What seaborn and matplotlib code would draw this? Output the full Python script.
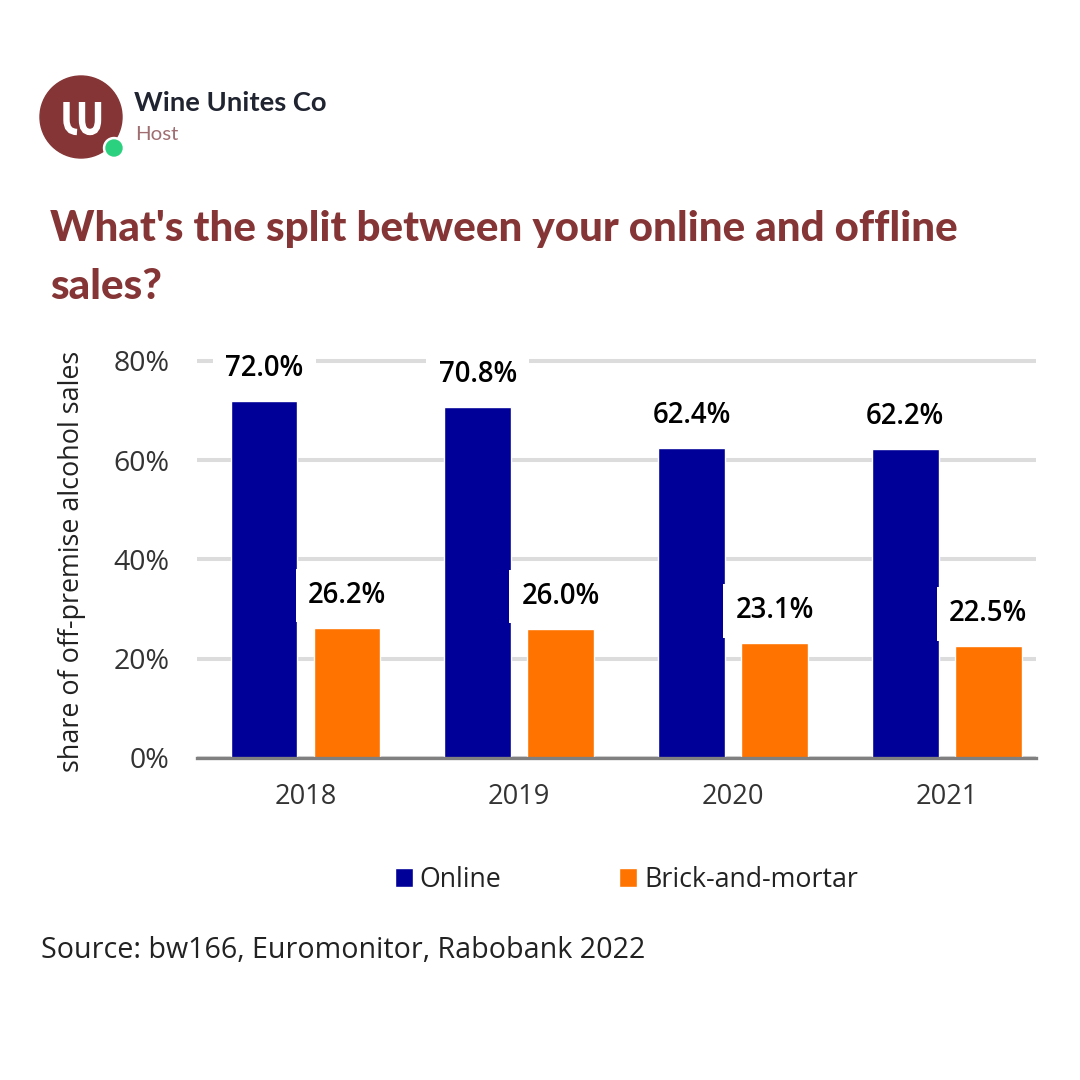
import pandas as pd
import seaborn as sns
import matplotlib.pyplot as plt
from matplotlib.patches import Circle, PathPatch
from matplotlib.path import Path

# values
years = ["2018", "2019", "2020", "2021"]
online = [72.0, 70.8, 62.4, 62.2]
brick_and_mortar = [26.2, 26.0, 23.1, 22.5]
y_ticks = [0, 20, 40, 60, 80]

BLUE = "#000099"
ORANGE = "#FF7300"
WINE = "#853535"
W = H = 1080


def fx(px):
    return px / W


def fy(py):
    return 1 - py / H


df = pd.DataFrame({
    "year": years * 2,
    "share": online + brick_and_mortar,
    "channel": ["Online"] * 4 + ["Brick-and-mortar"] * 4,
})

sns.set_theme(style="white")
plt.rcParams["font.family"] = ["Open Sans", "DejaVu Sans"]

fig = plt.figure(figsize=(10.8, 10.8), dpi=100, facecolor="white")

# Header drawn in pixel coordinates
bg = fig.add_axes([0, 0, 1, 1])
bg.set_xlim(0, W)
bg.set_ylim(H, 0)
bg.axis("off")
bg.add_patch(Circle((81, 117), 41, color=WINE))
# logo mark: an l with a curved tail running into a U
logo = Path(
    [(66.5, 102), (66.5, 120), (66.5, 132), (77, 132),
     (82, 102), (82, 120), (82, 132), (90, 132), (98, 132), (98, 120), (98, 102)],
    [Path.MOVETO, Path.LINETO, Path.CURVE3, Path.CURVE3,
     Path.MOVETO, Path.LINETO, Path.CURVE3, Path.CURVE3, Path.CURVE3, Path.CURVE3, Path.LINETO],
)
bg.add_patch(PathPatch(logo, facecolor="none", edgecolor="white", linewidth=4.6, capstyle="butt"))
bg.add_patch(Circle((114, 148), 10.5, color="white"))
bg.add_patch(Circle((114, 148), 8, color="#2BD17E"))
bg.text(134, 103, "Wine Unites Co", color="#1F2430", fontsize=19.7, fontweight="bold",
        family="Lato", va="center")
bg.text(135, 134, "Host", color="#A06E72", fontsize=14.7, family="Lato", va="center")
bg.text(50, 229, "What's the split between your online and offline", color=WINE,
        fontsize=30.3, fontweight="black", family="Lato", va="center")
bg.text(50, 287, "sales?", color=WINE, fontsize=30.3, fontweight="black", family="Lato",
        va="center")

# Chart
ax = fig.add_axes([fx(197), fy(758), fx(1036 - 197), (758 - 358) / H])
ax.patch.set_alpha(0)
sns.barplot(data=df, x="year", y="share", hue="channel", order=years,
            hue_order=["Online", "Brick-and-mortar"],
            palette=[BLUE, ORANGE], saturation=1, width=0.777, gap=0.195,
            legend=False, ax=ax, zorder=2)

ax.set_xlim(-0.508, 3.418)
ax.set_ylim(0, 80.6)
ax.set_yticks(y_ticks)
ax.set_yticklabels([f"{t}%" for t in y_ticks])
ax.yaxis.grid(True, color="#DCDCDC", linewidth=2.9, zorder=0)
ax.xaxis.grid(False)
ax.set_axisbelow(True)
ax.tick_params(axis="both", length=0, labelcolor="#333333")
ax.tick_params(axis="x", pad=18, labelsize=19.6)
ax.tick_params(axis="y", pad=20, labelsize=20.5)
ax.set_xlabel("")
ax.set_ylabel("share of off-premise alcohol sales", fontsize=19.4, color="#222222")
ax.yaxis.set_label_coords(fx(86), fy(561), transform=fig.transFigure)

for side in ["top", "left", "right"]:
    ax.spines[side].set_visible(False)
ax.spines["bottom"].set_color("#808080")
ax.spines["bottom"].set_linewidth(2.4)
ax.spines["bottom"].set_zorder(3)

# White boxes behind the labels cut the gridlines and bar edges, as in the original
for container in ax.containers:
    ax.bar_label(container, fmt="%.1f%%", padding=13, fontsize=19.8, fontweight="semibold",
                 color="black", zorder=5,
                 bbox=dict(facecolor="white", edgecolor="none", pad=9))

handles = [c[0] for c in ax.containers]
fig.legend(handles, ["Online", "Brick-and-mortar"], ncol=2, frameon=False,
           loc="center left", bbox_to_anchor=(fx(395), fy(880)), fontsize=19.3,
           labelcolor="#222222", handlelength=0.67, handleheight=0.67,
           handletextpad=0.25, columnspacing=4.4, borderpad=0, borderaxespad=0)

fig.text(fx(41), fy(951), "Source: bw166, Euromonitor, Rabobank 2022", fontsize=20.6,
         color="#222222", va="center")

fig.savefig("out.png", dpi=100, facecolor="white")
